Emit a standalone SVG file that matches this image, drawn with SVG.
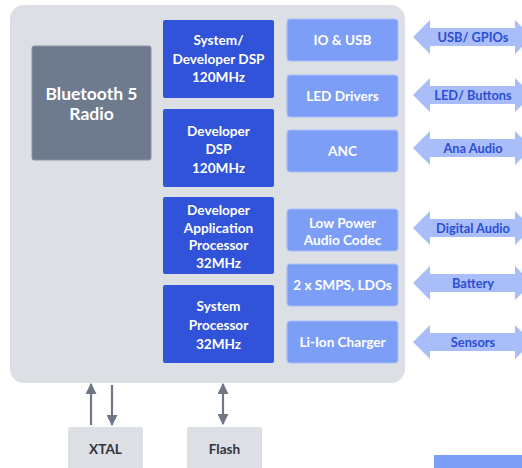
<svg xmlns="http://www.w3.org/2000/svg" width="522" height="468" viewBox="0 0 522 468">
<style>
.t{font-family:Lato,"Open Sans","DejaVu Sans",sans-serif;font-weight:700;text-anchor:middle;dominant-baseline:central}
.w{fill:#ffffff;font-size:13.6px}
.g{fill:#2f3540;font-size:13.6px}
.a{fill:#2b4fd4;font-size:12.8px}
.dark{fill:#3053d9}
.lite{fill:#7d9ef6;stroke:#a9bff8;stroke-width:1}
.gray{fill:#dcdfe4}
.bt{fill:#6e7a8e;stroke:#8a95a6;stroke-width:1}
.ln{stroke:#707784;stroke-width:2.2;fill:none}
.ext{fill:#a9bdf8}
</style>
<defs>
<marker id="ah" viewBox="0 0 10 10" refX="9" refY="5" markerWidth="5" markerHeight="5" orient="auto-start-reverse" markerUnits="strokeWidth">
<path d="M0,0 L10,5 L0,10 z" fill="#707784"/>
</marker>
<path id="dbl" d="M0,0 L17,-17 L17,-9 L102,-9 L102,-17 L119,0 L102,17 L102,9 L17,9 L17,17 z"/>
</defs>
<rect id="container" x="10" y="5" width="395" height="378" rx="14" class="gray"/>
<g id="bluetooth"><rect x="32" y="46" width="119" height="114" rx="2" class="bt"/>
<text class="t w" x="91.5" y="93" style="font-size:17.5px">Bluetooth 5</text>
<text class="t w" x="91.5" y="113" style="font-size:17.5px">Radio</text></g>
<g id="sysdsp"><rect x="163" y="20" width="111" height="78" rx="2" class="dark"/>
<text class="t w" x="218.5" y="40">System/</text><text class="t w" x="218.5" y="59">Developer DSP</text><text class="t w" x="218.5" y="77">120MHz</text></g>
<g id="devdsp"><rect x="163" y="109" width="111" height="78" rx="2" class="dark"/>
<text class="t w" x="218.5" y="131">Developer</text><text class="t w" x="218.5" y="149">DSP</text><text class="t w" x="218.5" y="168">120MHz</text></g>
<g id="devapp"><rect x="163" y="197" width="111" height="77" rx="2" class="dark"/>
<text class="t w" x="218.5" y="210">Developer</text><text class="t w" x="218.5" y="228">Application</text><text class="t w" x="218.5" y="245">Processor</text><text class="t w" x="218.5" y="263">32MHz</text></g>
<g id="sysproc"><rect x="163" y="285" width="111" height="78" rx="2" class="dark"/>
<text class="t w" x="218.5" y="306">System</text><text class="t w" x="218.5" y="325">Processor</text><text class="t w" x="218.5" y="344">32MHz</text></g>
<g id="iousb"><rect x="287" y="19" width="111" height="42" rx="3" class="lite"/><text class="t w" x="342.5" y="40">IO &amp; USB</text></g>
<g id="led"><rect x="287" y="75" width="111" height="42" rx="3" class="lite"/><text class="t w" x="342.5" y="96">LED Drivers</text></g>
<g id="anc"><rect x="287" y="130" width="111" height="42" rx="3" class="lite"/><text class="t w" x="342.5" y="151">ANC</text></g>
<g id="codec"><rect x="287" y="209" width="111" height="42" rx="3" class="lite"/><text class="t w" x="342.5" y="223">Low Power</text><text class="t w" x="342.5" y="240">Audio Codec</text></g>
<g id="smps"><rect x="287" y="264" width="111" height="42" rx="3" class="lite"/><text class="t w" x="342.5" y="285">2 x SMPS, LDOs</text></g>
<g id="charger"><rect x="287" y="321" width="111" height="42" rx="3" class="lite"/><text class="t w" x="342.5" y="342">Li-Ion Charger</text></g>
<g id="xtal"><rect x="68" y="427" width="75" height="45" rx="2" class="gray"/><text class="t g" x="105.5" y="449">XTAL</text></g>
<g id="flash"><rect x="187" y="427" width="75" height="45" rx="2" class="gray"/><text class="t g" x="224.5" y="449">Flash</text></g>
<g id="more"><rect x="434" y="455" width="92" height="20" class="lite" style="stroke:none"/></g>
<g id="connectors">
<line class="ln" x1="91" y1="425" x2="91" y2="384" marker-end="url(#ah)"/>
<line class="ln" x1="112" y1="385" x2="112" y2="425" marker-end="url(#ah)"/>
<line class="ln" x1="223" y1="384" x2="223" y2="424" marker-start="url(#ah)" marker-end="url(#ah)"/>
<use href="#dbl" class="ext" x="413" y="37"/>
<use href="#dbl" class="ext" x="413" y="95"/>
<use href="#dbl" class="ext" x="413" y="148"/>
<use href="#dbl" class="ext" x="413" y="228"/>
<use href="#dbl" class="ext" x="413" y="283"/>
<use href="#dbl" class="ext" x="413" y="342"/>
<text class="t a" x="473" y="37">USB/ GPIOs</text>
<text class="t a" x="473" y="95">LED/ Buttons</text>
<text class="t a" x="473" y="148">Ana Audio</text>
<text class="t a" x="473" y="228">Digital Audio</text>
<text class="t a" x="473" y="283">Battery</text>
<text class="t a" x="473" y="342">Sensors</text>
</g>
</svg>
